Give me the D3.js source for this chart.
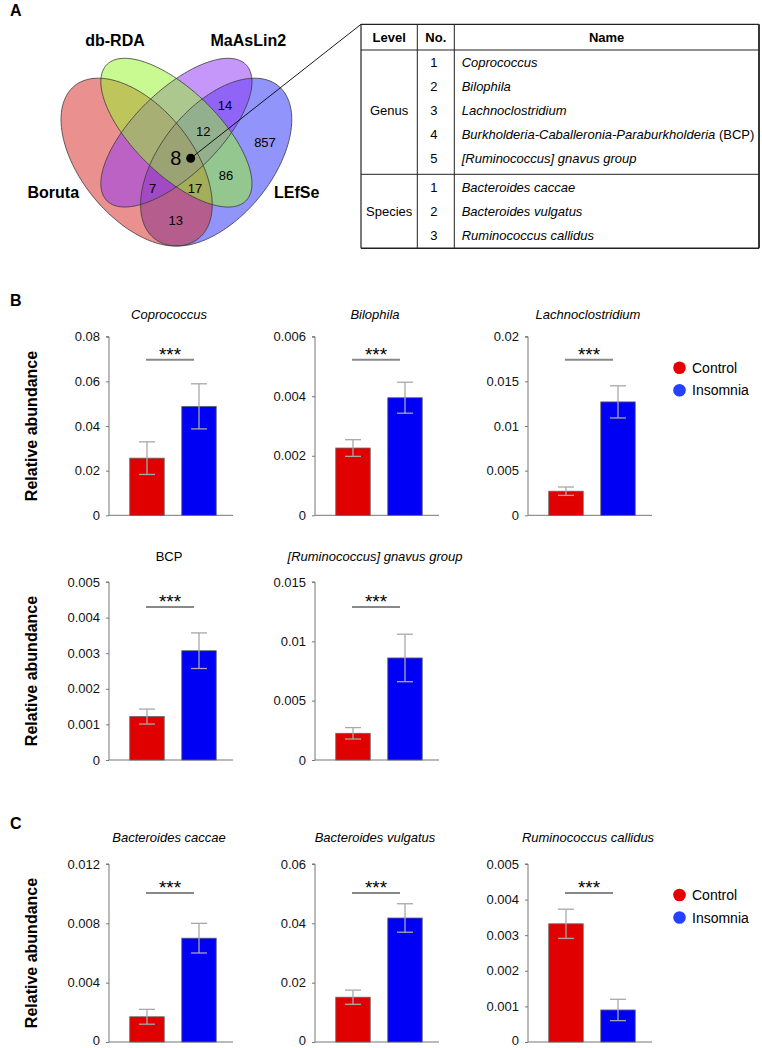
<!DOCTYPE html>
<html>
<head>
<meta charset="utf-8">
<script src="https://cdn.jsdelivr.net/npm/d3@7"></script>
<style>
  body { margin: 0; background: #fff; }
  svg { font-family: "Liberation Sans", Arial, sans-serif; }
</style>
</head>
<body>
<svg id="fig" width="762" height="1048"></svg>
<script>
// ---- data ----
const groups = ['Control', 'Insomnia'];
const taxa = ['Coprococcus', 'Bilophila', 'Lachnoclostridium', 'BCP',
  '[Ruminococcus] gnavus group', 'Bacteroides caccae', 'Bacteroides vulgatus', 'Ruminococcus callidus'];
const controlMean = [0.0256, 0.00226, 0.0027, 0.00122, 0.00225, 0.0017, 0.0151, 0.00332];
const controlErr = [0.0073, 0.00028, 0.00047, 0.00021, 0.00048, 0.0005, 0.0024, 0.00041];
const insomniaMean = [0.0488, 0.00395, 0.0127, 0.00307, 0.0086, 0.007, 0.0418, 0.0009];
const insomniaErr = [0.0101, 0.00052, 0.0018, 0.0005, 0.002, 0.001, 0.0048, 0.0003];
const yMax = [0.08, 0.006, 0.02, 0.005, 0.015, 0.012, 0.06, 0.005];
const yStep = [0.02, 0.002, 0.005, 0.001, 0.005, 0.004, 0.02, 0.001];
const signif = ['***', '***', '***', '***', '***', '***', '***', '***'];

const vennSets = ['Boruta', 'db-RDA', 'MaAsLin2', 'LEfSe'];
const vennCounts = [8, 12, 14, 857, 86, 17, 7, 13];

const tableLevels = ['Genus', 'Species'];
const genusNames = ['Coprococcus', 'Bilophila', 'Lachnoclostridium',
  'Burkholderia-Caballeronia-Paraburkholderia', '[Ruminococcus] gnavus group'];
const speciesNames = ['Bacteroides caccae', 'Bacteroides vulgatus', 'Ruminococcus callidus'];

// ---- layout ----
const svg = d3.select('#fig');
const barColor = {Control: '#e00000', Insomnia: '#0000f5'};
const legendColor = {Control: '#e60000', Insomnia: '#2541ff'};
const colX = [109, 315, 528];
const rows = [
  {top: 336.7, zero: 515.3, sig: 23, title: 18},
  {top: 582, zero: 760, sig: 25, title: 21},
  {top: 864, zero: 1042, sig: 29, title: 22}
];
const chartPos = [[0, 0], [0, 1], [0, 2], [1, 0], [1, 1], [2, 0], [2, 1], [2, 2]];
const plotW = 124;

// panel letters
[['A', 10, 16], ['B', 10, 306], ['C', 10, 829]].forEach(([t, x, y]) => {
  svg.append('text').attr('x', x).attr('y', y).attr('font-size', 16)
    .attr('font-weight', 'bold').text(t);
});

// ---- Venn ----
const vx = d3.scaleLinear().domain([0, 1]).range([43.8, 309]);
const vy = d3.scaleLinear().domain([0.185, 0.8226]).range([246, 58.3]);
// drawn in this order so the overlaps blend like the original
const ellipses = [
  {set: 'LEfSe', cx: 0.65, cy: 0.47, a: 0.35, b: 0.2, rot: 45, fill: 'rgb(45,50,245)'},
  {set: 'Boruta', cx: 0.35, cy: 0.47, a: 0.35, b: 0.2, rot: -45, fill: 'rgb(215,45,40)'},
  {set: 'MaAsLin2', cx: 0.5, cy: 0.57, a: 0.35, b: 0.15, rot: 40, fill: 'rgb(145,55,245)'},
  {set: 'db-RDA', cx: 0.5, cy: 0.57, a: 0.35, b: 0.15, rot: -40, fill: 'rgb(150,245,45)'}
];
const line = d3.line().curve(d3.curveLinearClosed);
const ellPaths = ellipses.map(e => {
  const th = e.rot * Math.PI / 180;
  const pts = d3.range(0, 2 * Math.PI, Math.PI / 90).map(t => {
    const px = e.cx + e.a * Math.cos(t) * Math.cos(th) - e.b * Math.sin(t) * Math.sin(th);
    const py = e.cy + e.a * Math.cos(t) * Math.sin(th) + e.b * Math.sin(t) * Math.cos(th);
    return [vx(px), vy(py)];
  });
  return line(pts);
});
ellipses.forEach((e, i) => {
  svg.append('path').attr('d', ellPaths[i]).attr('fill', e.fill).attr('fill-opacity', 0.52);
});
ellPaths.forEach(d => {
  svg.append('path').attr('d', d).attr('fill', 'none').attr('stroke', '#3a3a3a').attr('stroke-width', 0.8);
});

const setLabelPos = [[53.3, 192.7], [115, 40], [248.3, 40], [296.7, 192.7]];
vennSets.forEach((s, i) => {
  svg.append('text').attr('x', setLabelPos[i][0]).attr('y', setLabelPos[i][1])
    .attr('dy', '0.35em').attr('text-anchor', 'middle')
    .attr('font-size', 16).attr('font-weight', 'bold').text(s);
});
const regionPos = [[175.7, 158], [203.3, 131.7], [225, 105], [265, 142.7],
  [226, 175.7], [195, 188.7], [152.7, 188.7], [175.7, 220]];
vennCounts.forEach((c, i) => {
  svg.append('text').attr('x', regionPos[i][0]).attr('y', regionPos[i][1])
    .attr('dy', '0.36em').attr('text-anchor', 'middle')
    .attr('font-size', i === 0 ? 20 : 13).text(c);
});
// pointer from the core region to the table
svg.append('line').attr('x1', 190.7).attr('y1', 158.3).attr('x2', 361).attr('y2', 24.3)
  .attr('stroke', '#000').attr('stroke-width', 0.9);
svg.append('circle').attr('cx', 190.7).attr('cy', 158.3).attr('r', 4.5).attr('fill', '#000');

// ---- table ----
const tb = {left: 361, right: 759, top: 24.3, head: 50, split: 174.3, bottom: 248.3, c1: 417.3, c2: 454.3};
const tg = svg.append('g').attr('font-size', 13);
const hl = (y, w) => tg.append('line').attr('x1', tb.left).attr('x2', tb.right).attr('y1', y).attr('y2', y)
  .attr('stroke', '#222').attr('stroke-width', w);
const vl = (x, w) => tg.append('line').attr('x1', x).attr('x2', x).attr('y1', tb.top).attr('y2', tb.bottom)
  .attr('stroke', '#222').attr('stroke-width', w);
hl(tb.top, 1.2); hl(tb.head, 1); hl(tb.split, 1); hl(tb.bottom, 1.5);
vl(tb.left, 1.2); vl(tb.c1, 1); vl(tb.c2, 1); vl(tb.right, 1.8);

[['Level', (tb.left + tb.c1) / 2], ['No.', (tb.c1 + tb.c2) / 2], ['Name', (tb.c2 + tb.right) / 2]]
  .forEach(([t, x]) => tg.append('text').attr('x', x).attr('y', 41.7).attr('text-anchor', 'middle')
    .attr('font-weight', 'bold').text(t));

const tableRows = [genusNames, speciesNames];
const rowStart = [66.7, 192.3];
tableRows.forEach((names, k) => {
  names.forEach((n, i) => {
    const y = rowStart[k] + i * 24;
    tg.append('text').attr('x', (tb.c1 + tb.c2) / 2 - 2).attr('y', y).attr('text-anchor', 'middle').text(i + 1);
    const t = tg.append('text').attr('x', 461.7).attr('y', y);
    t.append('tspan').attr('font-style', 'italic').text(n);
    if (n.startsWith('Burkholderia')) t.append('tspan').text(' (BCP)');
  });
  const mid = rowStart[k] + (names.length - 1) * 12;
  tg.append('text').attr('x', (tb.left + tb.c1) / 2).attr('y', mid).attr('text-anchor', 'middle')
    .text(tableLevels[k]);
});

// ---- bar charts ----
const fmt = d => String(+d.toFixed(6));
taxa.forEach((name, i) => {
  const [r, c] = chartPos[i];
  const row = rows[r];
  const ox = colX[c];
  const g = svg.append('g').attr('transform', `translate(${ox},0)`);

  const x = d3.scaleBand().domain(groups).range([0, 128]).paddingInner(0.337).paddingOuter(0.399);
  const y = d3.scaleLinear().domain([0, yMax[i]]).range([row.zero, row.top]);

  const axis = d3.axisLeft(y).tickValues(d3.range(0, yMax[i] + yStep[i] / 2, yStep[i]))
    .tickFormat(fmt).tickSize(3).tickPadding(6);
  const ag = g.append('g').call(axis);
  ag.select('.domain').attr('stroke', '#777').attr('d', `M-3,${row.top}H0V${row.zero}`);
  ag.selectAll('.tick line').attr('stroke', '#777');
  ag.selectAll('.tick text').attr('font-size', 13).attr('fill', '#111')
    .attr('font-family', '"Liberation Sans", Arial, sans-serif')
    .attr('dy', d => (r === 2 && d === 0) ? '0.22em' : '0.32em');
  g.append('line').attr('x1', 0).attr('x2', plotW).attr('y1', row.zero).attr('y2', row.zero)
    .attr('stroke', '#777');

  const vals = [
    {k: 'Control', m: controlMean[i], e: controlErr[i]},
    {k: 'Insomnia', m: insomniaMean[i], e: insomniaErr[i]}
  ];
  g.selectAll('rect.bar').data(vals).enter().append('rect').attr('class', 'bar')
    .attr('x', d => x(d.k)).attr('width', x.bandwidth())
    .attr('y', d => y(d.m)).attr('height', d => row.zero - y(d.m))
    .attr('fill', d => barColor[d.k]).attr('stroke', '#666').attr('stroke-width', 0.8);

  vals.forEach(d => {
    const cx = x(d.k) + x.bandwidth() / 2;
    const eg = g.append('g').attr('stroke', '#a8a8a8').attr('stroke-width', 1.3);
    eg.append('line').attr('x1', cx).attr('x2', cx).attr('y1', y(d.m + d.e)).attr('y2', y(d.m - d.e));
    [d.m + d.e, d.m - d.e].forEach(v => eg.append('line').attr('x1', cx - 8).attr('x2', cx + 8)
      .attr('y1', y(v)).attr('y2', y(v)));
  });

  const sx1 = x('Control') + x.bandwidth() / 2 - 1;
  const sx2 = x('Insomnia') + x.bandwidth() / 2 - 5;
  const sy = row.top + row.sig;
  g.append('line').attr('x1', sx1).attr('x2', sx2).attr('y1', sy).attr('y2', sy)
    .attr('stroke', '#888').attr('stroke-width', 2);
  g.append('text').attr('x', (sx1 + sx2) / 2).attr('y', sy + 1).attr('text-anchor', 'middle')
    .attr('font-size', 19).text(signif[i]);

  g.append('text').attr('x', 60).attr('y', row.top - row.title).attr('text-anchor', 'middle')
    .attr('font-size', 13).attr('font-style', name === 'BCP' ? 'normal' : 'italic').text(name);

  if (c === 0) {
    svg.append('text').attr('transform', `translate(37,${(row.top + row.zero) / 2}) rotate(-90)`)
      .attr('text-anchor', 'middle').attr('font-size', 16).attr('font-weight', 'bold')
      .text('Relative abundance');
  }
});

// legends (rows 1 and 3)
[0, 2].forEach(r => {
  const base = rows[r].top + 31;
  groups.forEach((gname, j) => {
    const yy = base + j * 22.5;
    svg.append('circle').attr('cx', 679.5).attr('cy', yy).attr('r', 6.3).attr('fill', legendColor[gname]);
    svg.append('text').attr('x', 692).attr('y', yy).attr('dy', '0.36em').attr('font-size', 14).text(gname);
  });
});
</script>
</body>
</html>
